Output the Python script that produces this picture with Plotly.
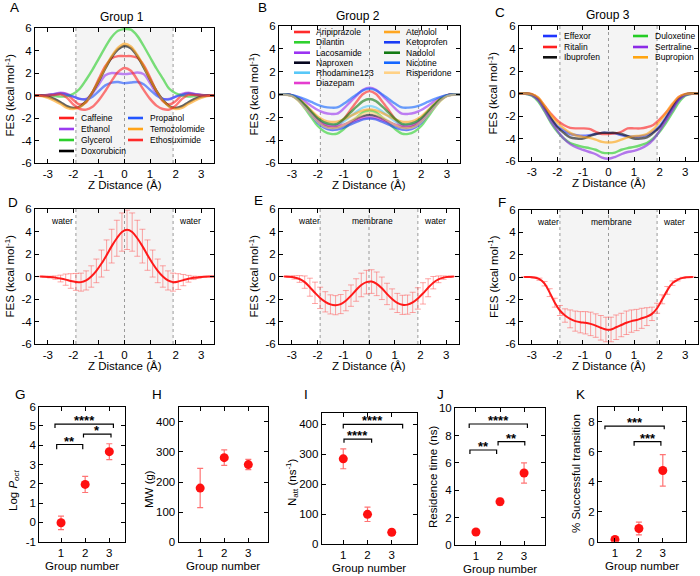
import plotly.graph_objects as go

FONT = "Liberation Sans, Arial, sans-serif"
W, H = 700, 576

# ---------------- data ----------------
z_grid = [-3.5, -3.25, -3.0, -2.75, -2.5, -2.25, -2.0, -1.75, -1.5, -1.25, -1.0, -0.75, -0.5, -0.25, 0.0,
          0.25, 0.5, 0.75, 1.0, 1.25, 1.5, 1.75, 2.0, 2.25, 2.5, 2.75, 3.0, 3.25, 3.5]

# Group 1 free-energy profiles
caffeine = [0, 0, 0.05, 0.1, 0.2, 0.1, -0.4, -0.8, -0.6, 0.3, 1.5, 2.6, 3.3, 3.5, 3.5,
            3.5, 3.35, 2.7, 1.6, 0.4, -0.5, -0.8, -0.5, 0.05, 0.2, 0.1, 0.05, 0, 0]
ethanol = [0, 0, 0.05, 0.15, 0.25, 0.15, -0.1, -0.3, -0.3, 0.2, 1.0, 1.8, 2.0, 1.95, 1.9,
           1.95, 2.05, 1.9, 1.1, 0.2, -0.3, -0.3, -0.1, 0.15, 0.25, 0.15, 0.05, 0, 0]
glycerol = [0, 0, 0, -0.05, -0.1, -0.05, 0.15, 0.6, 1.4, 2.3, 3.3, 4.3, 5.2, 5.75, 5.9,
            5.85, 5.3, 4.4, 3.4, 2.4, 1.5, 0.6, 0.2, 0, -0.1, -0.05, 0, 0, 0]
doxorubicin = [0, 0, -0.1, -0.3, -0.6, -0.95, -1.1, -1.0, -0.5, 0.3, 1.3, 2.4, 3.4, 4.1, 4.4,
               4.2, 3.5, 2.5, 1.4, 0.4, -0.4, -0.95, -1.1, -0.95, -0.6, -0.3, -0.1, 0, 0]
propanol = [0, 0, 0.02, 0.1, 0.15, 0.05, -0.1, -0.3, -0.35, -0.1, 0.4, 0.9, 1.15, 1.2, 1.1,
            1.15, 1.2, 1.0, 0.5, 0.0, -0.3, -0.35, -0.1, 0.05, 0.15, 0.1, 0.02, 0, 0]
temozolomide = [0, -0.05, -0.2, -0.45, -0.75, -1.1, -1.2, -1.05, -0.55, 0.3, 1.35, 2.5, 3.5, 4.25, 4.6,
                4.35, 3.6, 2.6, 1.45, 0.4, -0.45, -1.0, -1.2, -1.1, -0.75, -0.45, -0.2, -0.05, 0]
ethosuximide = [0, 0, 0, 0.05, 0.1, -0.2, -0.8, -1.2, -1.25, -1.0, -0.4, 0.4, 1.3, 2.1, 2.45,
                2.2, 1.4, 0.5, -0.3, -0.9, -1.2, -1.25, -0.9, -0.3, 0.05, 0.05, 0, 0, 0]

# Group 2
aripiprazole = [0, 0, -0.08, -0.42, -0.98, -1.62, -2.24, -2.63, -2.8, -2.77, -2.18, -1.4, -0.63, 0.05, 0.3,
                0.05, -0.63, -1.4, -2.18, -2.77, -2.8, -2.63, -2.24, -1.62, -0.98, -0.42, -0.08, 0, 0]
dilantin = [0, 0, -0.1, -0.52, -1.21, -2.0, -2.76, -3.24, -3.45, -3.42, -3.04, -2.53, -2.02, -1.56, -1.4,
            -1.56, -2.02, -2.53, -3.04, -3.42, -3.45, -3.24, -2.76, -2.0, -1.21, -0.52, -0.1, 0, 0]
lacosamide = [0, 0, -0.05, -0.25, -0.6, -1.0, -1.36, -1.6, -1.7, -1.68, -1.24, -0.67, -0.09, 0.42, 0.6,
              0.42, -0.09, -0.67, -1.24, -1.68, -1.7, -1.6, -1.36, -1.0, -0.6, -0.25, -0.05, 0, 0]
naproxen = [0, 0, -0.09, -0.44, -1.02, -1.68, -2.32, -2.73, -2.9, -2.87, -2.68, -2.4, -2.13, -1.89, -1.8,
            -1.89, -2.13, -2.4, -2.68, -2.87, -2.9, -2.73, -2.32, -1.68, -1.02, -0.44, -0.09, 0, 0]
rhodamine123 = [0, 0, -0.08, -0.4, -0.95, -1.57, -2.16, -2.54, -2.7, -2.67, -2.36, -1.94, -1.51, -1.14, -1.0,
                -1.14, -1.51, -1.94, -2.36, -2.67, -2.7, -2.54, -2.16, -1.57, -0.95, -0.4, -0.08, 0, 0]
diazepam = [0, 0, -0.08, -0.42, -0.98, -1.62, -2.24, -2.63, -2.8, -2.77, -2.64, -2.44, -2.24, -2.06, -2.0,
            -2.06, -2.24, -2.44, -2.64, -2.77, -2.8, -2.63, -2.24, -1.62, -0.98, -0.42, -0.08, 0, 0]
atenolol = [0, 0, -0.07, -0.36, -0.84, -1.39, -1.92, -2.26, -2.4, -2.38, -2.18, -1.9, -1.63, -1.39, -1.3,
            -1.39, -1.63, -1.9, -2.18, -2.38, -2.4, -2.26, -1.92, -1.39, -0.84, -0.36, -0.07, 0, 0]
ketoprofen = [0, 0, -0.09, -0.47, -1.09, -1.8, -2.48, -2.91, -3.1, -3.07, -2.9, -2.65, -2.4, -2.18, -2.1,
              -2.18, -2.4, -2.65, -2.9, -3.07, -3.1, -2.91, -2.48, -1.8, -1.09, -0.47, -0.09, 0, 0]
nadolol = [0, 0, -0.08, -0.39, -0.91, -1.51, -2.08, -2.44, -2.6, -2.57, -2.16, -1.61, -1.06, -0.58, -0.4,
           -0.58, -1.06, -1.61, -2.16, -2.57, -2.6, -2.44, -2.08, -1.51, -0.91, -0.39, -0.08, 0, 0]
nicotine = [0, 0, -0.05, -0.2, -0.4, -0.65, -0.9, -1.08, -1.15, -1.13, -0.82, -0.41, 0.0, 0.37, 0.5,
            0.37, 0.0, -0.41, -0.82, -1.13, -1.15, -1.08, -0.9, -0.65, -0.4, -0.2, -0.05, 0, 0]
risperidone = [0, -0.02, -0.15, -0.55, -1.15, -1.8, -2.4, -2.8, -2.95, -2.92, -2.68, -2.34, -2.0, -1.71, -1.6,
               -1.71, -2.0, -2.34, -2.68, -2.92, -2.95, -2.8, -2.4, -1.8, -1.15, -0.55, -0.15, -0.02, 0]

# Group 3
effexor = [0, 0, -0.1, -0.5, -1.3, -2.2, -2.9, -3.3, -3.6, -3.7, -3.75, -3.7, -3.6, -3.5, -3.5,
           -3.55, -3.7, -3.8, -3.85, -3.8, -3.7, -3.4, -2.9, -2.1, -1.2, -0.45, -0.1, 0, 0]
ritalin = [0, 0, -0.05, -0.4, -1.1, -1.8, -2.4, -2.8, -3.05, -3.1, -3.1, -3.15, -3.4, -3.6, -3.6,
           -3.55, -3.4, -3.1, -3.1, -3.1, -3.0, -2.8, -2.3, -1.7, -1.0, -0.3, -0.05, 0, 0]
ibuprofen = [0, 0, -0.1, -0.5, -1.3, -2.2, -3.0, -3.5, -3.9, -4.0, -4.0, -3.8, -3.6, -3.5, -3.5,
             -3.5, -3.6, -3.8, -4.0, -4.0, -3.9, -3.5, -3.0, -2.2, -1.3, -0.5, -0.1, 0, 0]
duloxetine = [0, -0.02, -0.2, -0.7, -1.6, -2.6, -3.4, -4.0, -4.4, -4.6, -4.75, -4.85, -5.0, -5.25, -5.3,
              -5.25, -5.0, -4.85, -4.75, -4.6, -4.4, -4.0, -3.4, -2.6, -1.7, -0.8, -0.2, -0.02, 0]
sertraline = [0, -0.02, -0.15, -0.6, -1.5, -2.5, -3.3, -4.0, -4.5, -4.8, -5.0, -5.2, -5.4, -5.7, -5.8,
              -5.65, -5.4, -5.2, -5.1, -4.9, -4.6, -4.1, -3.3, -2.4, -1.5, -0.6, -0.15, -0.02, 0]
bupropion = [0, 0, -0.05, -0.35, -1.1, -1.9, -2.6, -3.1, -3.5, -3.75, -3.85, -3.95, -4.1, -4.3, -4.35,
             -4.3, -4.1, -3.9, -3.8, -3.75, -3.6, -3.2, -2.5, -1.7, -0.9, -0.3, -0.05, 0, 0]

group1_names = ["Caffeine", "Ethanol", "Glycerol", "Doxorubicin", "Propanol", "Temozolomide", "Ethosuximide"]
group1_fes = [caffeine, ethanol, glycerol, doxorubicin, propanol, temozolomide, ethosuximide]
group2_names = ["Aripiprazole", "Dilantin", "Lacosamide", "Naproxen", "Rhodamine123", "Diazepam",
                "Atenolol", "Ketoprofen", "Nadolol", "Nicotine", "Risperidone"]
group2_fes = [aripiprazole, dilantin, lacosamide, naproxen, rhodamine123, diazepam,
              atenolol, ketoprofen, nadolol, nicotine, risperidone]
group3_names = ["Effexor", "Ritalin", "Ibuprofen", "Duloxetine", "Sertraline", "Bupropion"]
group3_fes = [effexor, ritalin, ibuprofen, duloxetine, sertraline, bupropion]

# group averages (D, E, F)
z_d = [-3.3, -3.1, -2.9, -2.7, -2.5, -2.3, -2.1, -1.9, -1.7, -1.5, -1.3, -1.1, -0.9, -0.7, -0.5, -0.3, -0.1,
       0.1, 0.3, 0.5, 0.7, 0.9, 1.1, 1.3, 1.5, 1.7, 1.9, 2.1, 2.3, 2.5, 2.7, 2.9, 3.1, 3.3, 3.5]
mean_g1 = [0, -0.02, -0.05, -0.1, -0.18, -0.28, -0.4, -0.48, -0.5, -0.35, 0.0, 0.5, 1.15, 1.9, 2.7, 3.4, 3.95,
           4.15, 3.95, 3.4, 2.7, 1.9, 1.15, 0.5, 0.0, -0.35, -0.5, -0.45, -0.32, -0.2, -0.12, -0.07, -0.03, -0.01, 0]
err_g1 = [0.02, 0.04, 0.08, 0.15, 0.3, 0.5, 0.65, 0.75, 0.8, 0.85, 0.95, 1.05, 1.2, 1.35, 1.5, 1.6, 1.7,
          1.75, 1.7, 1.6, 1.5, 1.35, 1.2, 1.05, 0.95, 0.85, 0.8, 0.7, 0.5, 0.3, 0.15, 0.08, 0.04, 0.02, 0.01]
z_ef = [-3.3, -3.1, -2.9, -2.7, -2.5, -2.3, -2.1, -1.9, -1.7, -1.5, -1.3, -1.1, -0.9, -0.7, -0.5, -0.3, -0.1,
        0.1, 0.3, 0.5, 0.7, 0.9, 1.1, 1.3, 1.5, 1.7, 1.9, 2.1, 2.3, 2.5, 2.7, 2.9, 3.1, 3.3]
mean_g2 = [0, -0.02, -0.08, -0.22, -0.5, -0.95, -1.45, -1.9, -2.25, -2.48, -2.55, -2.45, -2.15, -1.7, -1.2, -0.75, -0.5,
           -0.45, -0.65, -1.05, -1.55, -2.0, -2.35, -2.52, -2.5, -2.3, -1.95, -1.5, -1.0, -0.55, -0.25, -0.1, -0.03, 0]
err_g2 = [0.01, 0.05, 0.15, 0.3, 0.55, 0.8, 0.95, 0.95, 0.9, 0.85, 0.85, 0.85, 0.9, 0.95, 1.0, 1.05, 1.05,
          1.05, 1.05, 1.0, 0.95, 0.9, 0.85, 0.85, 0.85, 0.9, 0.95, 0.95, 0.8, 0.55, 0.3, 0.15, 0.05, 0.01]
mean_g3 = [0, 0, -0.05, -0.2, -0.6, -1.4, -2.3, -3.0, -3.45, -3.75, -3.95, -4.05, -4.1, -4.2, -4.35, -4.55, -4.7,
           -4.7, -4.5, -4.3, -4.1, -3.95, -3.85, -3.7, -3.55, -3.3, -2.8, -2.0, -1.2, -0.55, -0.25, -0.08, -0.02, 0]
err_g3 = [0.01, 0.02, 0.05, 0.1, 0.2, 0.35, 0.4, 0.45, 0.6, 0.8, 0.9, 0.95, 1.0, 1.05, 1.05, 1.1, 1.1,
          1.1, 1.1, 1.05, 1.05, 1.0, 0.95, 0.9, 0.8, 0.6, 0.45, 0.4, 0.35, 0.2, 0.1, 0.05, 0.02, 0.01]

# summary panels (G-K)
groups = [1, 2, 3]
log_poct = [-0.02, 1.97, 3.67]
log_poct_err = [0.35, 0.42, 0.41]
mw = [180, 281, 258]
mw_err = [65, 26, 17]
n_att = [285, 100, 40]
n_att_err = [33, 24, 10]
res_time = [0.95, 3.17, 5.27]
res_time_err = [0.1, 0.25, 0.74]
success = [0.15, 0.88, 4.75]
success_err = [0.05, 0.42, 1.05]

# significance brackets: (x start, x end, bar level, tick bottom, label)
sig_g = [(0.75, 3.17, 5.1, 4.9, "****"), (0.82, 1.9, 4.04, 3.8, "**"), (1.93, 3.07, 4.58, 4.4, "*")]
sig_i = [(1.0, 3.45, 400, 386, "****"), (1.03, 2.17, 351, 339, "****")]
sig_j = [(0.72, 3.14, 8.85, 8.56, "****"), (0.75, 1.86, 6.95, 6.66, "**"), (1.92, 3.03, 7.56, 7.27, "**")]
sig_k = [(0.58, 3.06, 7.71, 7.49, "***"), (1.8, 2.92, 6.67, 6.4, "***")]

membrane_edges = [-1.9, 0, 1.9]
region_labels_d = [(-2.45, 4.9, "water"), (2.55, 4.9, "water")]
region_labels_ef = [(-2.35, 4.9, "water"), (0.12, 4.9, "membrane"), (2.55, 4.9, "water")]

# ---------------- styling ----------------
g1_colors = ["#ff1f1f", "#9b3cf0", "#2ccf2c", "#000000", "#2255ff", "#ffa318", "#ff2a2a"]
g2_colors = ["#ff2b2b", "#2fd12f", "#9b33f2", "#05051e", "#58c8f8", "#e53ccf",
             "#ffa620", "#1a3cf5", "#137a13", "#1466ff", "#ffd185"]
g3_colors = ["#1f35ff", "#ff2020", "#111111", "#24cc24", "#8b2ae6", "#ffa510"]


def px(x):
    return x / W


def py(y):
    return 1 - y / H


fig = go.Figure()
annotations = []
shapes = []

tick_font = dict(family=FONT, size=11.5, color="black")


def set_axes(n, xpx, ypx, xr, yr, xvals, yvals):
    sfx = "" if n == 1 else str(n)
    common = dict(showline=True, linecolor="black", linewidth=1, mirror="ticks", ticks="inside",
                  ticklen=4, tickcolor="black", showgrid=False, zeroline=False, tickfont=tick_font,
                  automargin=False, fixedrange=True)
    fig.update_layout(**{
        "xaxis" + sfx: dict(domain=[px(xpx[0]), px(xpx[1])], range=xr, anchor="y" + sfx,
                            tickvals=xvals, ticktext=[str(v) for v in xvals], **common),
        "yaxis" + sfx: dict(domain=[py(ypx[1]), py(ypx[0])], range=yr, anchor="x" + sfx,
                            tickvals=yvals, ticktext=[str(v) for v in yvals], **common),
    })
    return "x" + sfx, "y" + sfx


def text(x, y, s, size, xref="paper", yref="paper", xanchor="center", yanchor="middle", angle=0, yshift=0):
    annotations.append(dict(x=x, y=y, xref=xref, yref=yref, text=s, showarrow=False, xanchor=xanchor,
                            yanchor=yanchor, textangle=angle, yshift=yshift,
                            font=dict(family=FONT, size=size, color="black")))


zt = [-3, -2, -1, 0, 1, 2, 3]
ft = [-6, -4, -2, 0, 2, 4, 6]
fes_panels = [
    (1, (35, 214), (28, 163)), (2, (279, 460), (26, 163)), (3, (519, 698), (26, 161)),
    (4, (35, 214), (209, 344)), (5, (279, 459), (209, 344)), (6, (519, 698), (210, 344)),
]
refs = {}
for n, xpx, ypx in fes_panels:
    xa, ya = set_axes(n, xpx, ypx, [-3.5, 3.5], [-6, 6], zt, ft)
    refs[n] = (xa, ya)
    shapes.append(dict(type="rect", xref=xa, yref=ya + " domain", x0=membrane_edges[0], x1=membrane_edges[2],
                       y0=0, y1=1, fillcolor="#f4f4f4", line=dict(width=0), layer="below"))
    for e in membrane_edges:
        shapes.append(dict(type="line", xref=xa, yref=ya + " domain", x0=e, x1=e, y0=0, y1=1,
                           line=dict(color="#9a9a9a", width=1, dash="dot"), layer="below"))
    text((xpx[0] + xpx[1]) / 2 / W, py(ypx[1] + 22), "Z Distance (Å)", 11.5)
    ylab_x = {1: 9, 2: 253, 3: 493, 4: 9, 5: 253, 6: 493}[n]
    text(px(ylab_x), py((ypx[0] + ypx[1]) / 2), "FES (kcal mol<sup>-1</sup>)", 11.5, angle=-90)

# curves for groups 1-3 with hand-drawn legends
legend_specs = [
    (1, group1_names, group1_fes, g1_colors, 4, [(59, 74, 79), (128, 143, 148)], [118, 129, 140, 151]),
    (2, group2_names, group2_fes, g2_colors, 6, [(294, 310, 314), (384, 400, 404)], [32, 42.3, 52.7, 62.7, 72.7, 83]),
    (3, group3_names, group3_fes, g3_colors, 3, [(543, 557, 562), (633, 648, 653)], [36, 47, 57.3]),
]
for n, names, series, colors, ncol1, cols, rows in legend_specs:
    xa, ya = refs[n]
    for i, (name, vals, col) in enumerate(zip(names, series, colors)):
        fig.add_trace(go.Scatter(x=z_grid, y=vals, mode="lines", name=name, xaxis=xa, yaxis=ya,
                                 line=dict(color=col, width=2.4, shape="spline", smoothing=0.9),
                                 opacity=0.62, showlegend=False))
        c = 0 if i < ncol1 else 1
        r = i if i < ncol1 else i - ncol1
        lx0, lx1, tx = cols[c]
        shapes.append(dict(type="line", xref="paper", yref="paper", x0=px(lx0), x1=px(lx1),
                           y0=py(rows[r]), y1=py(rows[r]), line=dict(color=col, width=2.6)))
        text(px(tx), py(rows[r]), name, 8.5, xanchor="left")

for n, title, tx, ty in [(1, "Group 1", 122, 16.5), (2, "Group 2", 358, 16), (3, "Group 3", 608, 14.5)]:
    text(px(tx), py(ty), title, 12)

# averaged profiles with error bars
for n, zz, m, e, labels in [(4, z_d, mean_g1, err_g1, region_labels_d),
                            (5, z_ef, mean_g2, err_g2, region_labels_ef),
                            (6, z_ef, mean_g3, err_g3, region_labels_ef)]:
    xa, ya = refs[n]
    fig.add_trace(go.Scatter(x=zz, y=m, mode="lines", xaxis=xa, yaxis=ya, showlegend=False,
                             line=dict(color="#ff1a1a", width=2, shape="spline"),
                             error_y=dict(type="data", array=e, color="rgba(255,80,80,0.5)",
                                          thickness=1, width=3)))
    for lx, ly, s in labels:
        text(lx, ly, s, 8.5, xref=xa, yref=ya)

# summary panels
summary = [
    (7, (39.3, 125), (406.7, 541.7), [0.1, 3.65], [-1, 6], [-1, 0, 1, 2, 3, 4, 5, 6],
     log_poct, log_poct_err, sig_g, "Log <i>P</i><sub><i>oct</i></sub>", 14, 490, 566),
    (8, (178.5, 268.3), (406.7, 542.3), [0.1, 3.83], [0, 450], [0, 100, 200, 300, 400],
     mw, mw_err, [], "MW (g)", 149, 489, 566),
    (9, (321.7, 416.7), (413.3, 544.3), [0.11, 4.03], [0, 437], [0, 100, 200, 300, 400],
     n_att, n_att_err, sig_i, "N<sub>att</sub> (ns<sup>-1</sup>)", 292, 482, 567.5),
    (10, (455, 545), (408.3, 545), [0.13, 3.87], [0, 10], [0, 2, 4, 6, 8, 10],
     res_time, res_time_err, sig_j, "Residence time (ns)", 433, 477, 568.5),
    (11, (598, 686), (406.7, 541.7), [0.29, 3.97], [0, 9], [0, 2, 4, 6, 8],
     success, success_err, sig_k, "% Successful transition", 576, 474, 566),
]
for n, xpx, ypx, xr, yr, yt, vals, errs, sig, ytitle, ylx, yly, xty in summary:
    xa, ya = set_axes(n, xpx, ypx, xr, yr, groups, yt)
    fig.add_trace(go.Scatter(x=groups, y=vals, mode="markers", xaxis=xa, yaxis=ya, showlegend=False,
                             marker=dict(color="#ff1010", size=9),
                             error_y=dict(type="data", array=errs, color="rgba(255,70,70,0.75)",
                                          thickness=1.2, width=3)))
    for x0, x1, yb, yk, lab in sig:
        shapes.append(dict(type="path", xref=xa, yref=ya,
                           path=f"M {x0},{yk} L {x0},{yb} L {x1},{yb} L {x1},{yk}",
                           line=dict(color="black", width=1.2)))
        text((x0 + x1) / 2, yb, "<b>" + lab + "</b>", 13, xref=xa, yref=ya, yanchor="bottom", yshift=-6)
    text((xpx[0] + xpx[1]) / 2 / W, py(xty), "Group number", 11.5)
    text(px(ylx), py(yly), ytitle, 11.5, angle=-90)

# panel letters
for s, lx, ly in [("A", 14, 8), ("B", 262, 7), ("C", 500, 12), ("D", 13, 202), ("E", 258, 200),
                  ("F", 502, 202), ("G", 20, 394), ("H", 157, 394), ("I", 306, 394), ("J", 440, 394),
                  ("K", 580, 394)]:
    text(px(lx), py(ly), s, 13.5)

fig.update_layout(width=W, height=H, margin=dict(l=0, r=0, t=0, b=0, pad=0), autosize=False,
                  paper_bgcolor="white", plot_bgcolor="white",
                  shapes=shapes, annotations=annotations, showlegend=False,
                  font=dict(family=FONT, color="black"))
fig.write_html("out.html", config={"displayModeBar": False},
               post_script="document.body.style.margin='0';document.body.style.overflow='hidden';")
